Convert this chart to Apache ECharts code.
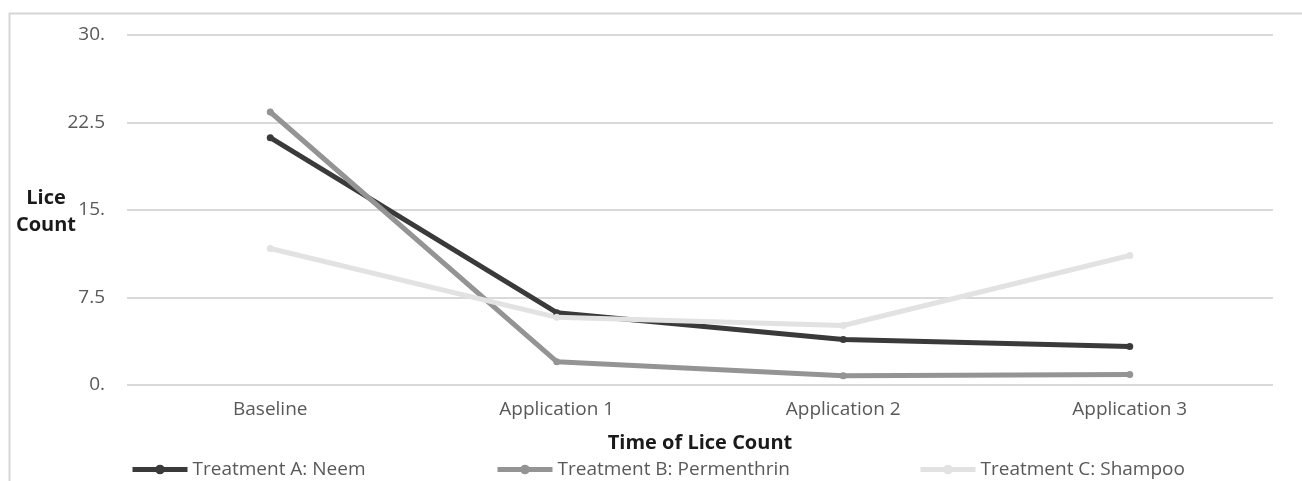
<!DOCTYPE html>
<html>
<head>
<meta charset="utf-8">
<script src="https://cdn.jsdelivr.net/npm/echarts@6/dist/echarts.min.js"></script>
<style>
html,body{margin:0;padding:0;background:#fff;}
#chart{width:1302px;height:481px;}
</style>
</head>
<body>
<div id="chart"></div>
<script>
const categories = ['Baseline', 'Application 1', 'Application 2', 'Application 3'];
const seriesNames = ['Treatment A: Neem', 'Treatment B: Permenthrin', 'Treatment C: Shampoo'];
const neem = [21.2, 6.2, 3.9, 3.3];
const permethrin = [23.4, 2.0, 0.8, 0.9];
const shampoo = [11.7, 5.8, 5.1, 11.1];
const yTickLabels = ['0.', '7.5', '15.', '22.5', '30.'];
const yTitle = 'Lice\nCount';
const xTitle = 'Time of Lice Count';
const colors = ['#3a3a3a', '#949494', '#e2e2e2'];

const chart = echarts.init(document.getElementById('chart'));
const font = '"Open Sans", "Noto Sans", sans-serif';
function mk(name, data, color) {
  return {
    name: name, type: 'line', data: data,
    symbol: 'circle', symbolSize: 7,
    lineStyle: {width: 5, color: color},
    itemStyle: {color: color},
    emphasis: {disabled: true}
  };
}
const legendLefts = [130, 495, 918];
const legends = seriesNames.map(function (n, i) {
  return {
    left: legendLefts[i], top: 460, itemWidth: 55, itemHeight: 12, padding: 0,
    lineStyle: {width: 5},
    textStyle: {fontSize: 19, color: '#595959', fontFamily: font},
    data: [n]
  };
});
chart.setOption({
  animation: false,
  textStyle: {fontFamily: font},
  graphic: [{
    type: 'rect', left: 7, top: 11,
    shape: {width: 1400, height: 600},
    style: {fill: 'none', stroke: '#d6d6d6', lineWidth: 2},
    silent: true, z: -10
  }, {
    type: 'text', x: 46, y: 212, silent: true,
    style: {text: yTitle, textAlign: 'center', textVerticalAlign: 'middle',
      fontSize: 20, fontWeight: 'bold', fontFamily: font, lineHeight: 27, fill: '#1a1a1a'}
  }],
  grid: {left: 127, right: 29, top: 35, bottom: 96, outerBoundsMode: 'none', containLabel: false},
  legend: legends,
  xAxis: {
    type: 'category', data: categories, boundaryGap: true,
    axisLine: {show: false}, axisTick: {show: false},
    axisLabel: {fontSize: 19, color: '#595959', margin: 15},
    name: xTitle, nameLocation: 'middle', nameGap: 48,
    nameTextStyle: {fontSize: 20, fontWeight: 'bold', color: '#1a1a1a'}
  },
  yAxis: {
    type: 'value', min: 0, max: 30, interval: 7.5,
    axisLine: {show: false}, axisTick: {show: false},
    axisLabel: {fontSize: 19, color: '#595959', margin: 22,
      formatter: function (v, i) { return yTickLabels[i]; }},
    splitLine: {lineStyle: {color: '#d9d9d9', width: 2}}
  },
  series: [mk(seriesNames[0], neem, colors[0]), mk(seriesNames[1], permethrin, colors[1]), mk(seriesNames[2], shampoo, colors[2])]
});
</script>
</body>
</html>
